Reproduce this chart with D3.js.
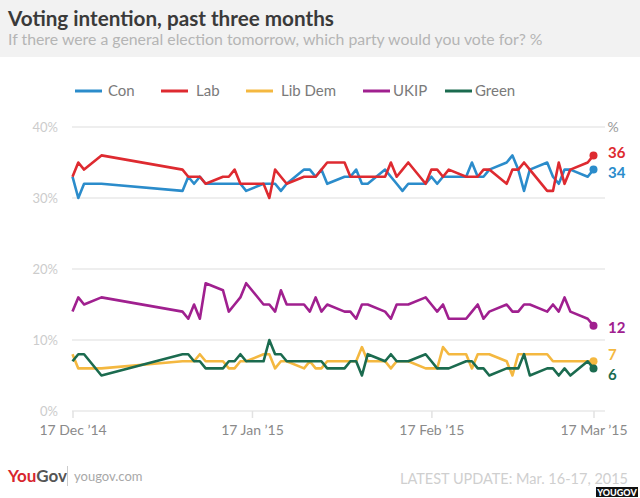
<!DOCTYPE html>
<html><head><meta charset="utf-8">
<script src="https://cdn.jsdelivr.net/npm/d3@7"></script>
<style>
html,body{margin:0;padding:0;background:#fff;}
svg{display:block;font-family:Lato,"Open Sans",sans-serif;}
</style></head>
<body>
<svg id="chart" width="640" height="498"></svg>
<script>
const dates = ["2014-12-17","2014-12-18","2014-12-19","2014-12-22",
"2015-01-05","2015-01-06","2015-01-07","2015-01-08","2015-01-09",
"2015-01-12","2015-01-13","2015-01-14","2015-01-15","2015-01-16",
"2015-01-19","2015-01-20","2015-01-21","2015-01-22","2015-01-23",
"2015-01-26","2015-01-27","2015-01-28","2015-01-29","2015-01-30",
"2015-02-02","2015-02-03","2015-02-04","2015-02-05","2015-02-06",
"2015-02-09","2015-02-10","2015-02-11","2015-02-12","2015-02-13",
"2015-02-16","2015-02-17","2015-02-18","2015-02-19","2015-02-20",
"2015-02-23","2015-02-24","2015-02-25","2015-02-26","2015-02-27",
"2015-03-02","2015-03-03","2015-03-04","2015-03-05","2015-03-06",
"2015-03-09","2015-03-10","2015-03-11","2015-03-12","2015-03-13",
"2015-03-16","2015-03-17"];
const con = [33,30,32,32, 31,33,32,33,32, 32,32,32,32,31, 32,32,32,31,32, 34,34,33,34,32,
  33,33,34,32,32, 34,33,32,31,32, 32,33,32,33,33, 33,35,33,33,34, 35,36,34,31,34, 35,33,32,34,34, 33,34];
const lab = [33,35,34,36, 34,33,33,33,32, 33,33,34,32,32, 32,30,34,33,32, 33,33,33,34,35,
  35,33,33,33,33, 33,35,33,34,35, 32,34,34,33,34, 33,33,33,34,34, 32,34,34,35,34, 31,31,35,32,34, 35,36];
const libDem = [8,6,6,6, 7,7,7,8,7, 7,6,6,7,7, 8,8,6,7,7, 6,7,6,6,7,
  7,7,7,9,7, 7,6,7,7,7, 6,6,6,9,8, 8,6,8,8,8, 7,5,8,8,8, 8,7,7,7,7, 7,7];
const ukip = [14,16,15,16, 14,13,15,13,18, 17,14,15,16,18, 15,15,14,17,15, 15,14,16,14,15,
  14,14,13,15,15, 14,13,15,15,15, 16,15,14,15,13, 13,14,15,13,14, 15,14,14,15,15, 14,15,14,16,14, 13,12];
const green = [7,8,8,5, 8,8,7,7,6, 6,7,7,8,7, 7,10,8,8,7, 7,7,7,7,6,
  6,7,7,5,8, 7,8,7,7,7, 8,7,6,6,6, 7,7,6,6,5, 6,6,6,8,5, 6,6,5,6,5, 7,6];
const seriesNames = ["Con","Lab","Lib Dem","UKIP","Green"];
const seriesColors = ["#2b8ccb","#de2a30","#f4b840","#a0208f","#1b6b4f"];
const yTicks = [0,10,20,30,40];
const xTickDates = ["2014-12-17","2015-01-17","2015-02-17","2015-03-17"];
const xTickLabels = ["17 Dec \u201914","17 Jan \u201915","17 Feb \u201915","17 Mar \u201915"];

const svg = d3.select("#chart");
const parse = d3.utcParse("%Y-%m-%d");
const x = d3.scaleUtc().domain([parse("2014-12-17"), parse("2015-03-17")]).range([72.5, 593.5]);
const y = d3.scaleLinear().domain([0,40]).range([411,127]);

function fitText(sel, target){
  const n = sel.node(); const w = n.getComputedTextLength();
  const fs = parseFloat(sel.attr("font-size"));
  sel.attr("font-size", (fs*target/w).toFixed(2));
}

// header
svg.append("rect").attr("x",0).attr("y",0).attr("width",640).attr("height",57).attr("fill","#f2f2f2");
const t1 = svg.append("text").attr("x",8).attr("y",26).attr("font-size",20).attr("font-weight",700)
  .attr("fill","#3a3a3a").text("Voting intention, past three months");
fitText(t1, 326);
const t2 = svg.append("text").attr("x",8).attr("y",45).attr("font-size",14)
  .attr("fill","#b5b5b5").text("If there were a general election tomorrow, which party would you vote for? %");
fitText(t2, 535);

// legend
const legX = [75,161,246,363,445];
const legTextX = [108,196,281,393,475];
seriesNames.forEach((n,i)=>{
  svg.append("line").attr("x1",legX[i]).attr("x2",legX[i]+27).attr("y1",91).attr("y2",91)
    .attr("stroke",seriesColors[i]).attr("stroke-width",3);
  svg.append("text").attr("x",legTextX[i]).attr("y",96).attr("font-size",15).attr("fill","#7a7a7a").text(n);
});

// grid
const g = svg.append("g");
yTicks.forEach(t=>{
  g.append("line").attr("x1",72).attr("x2",605).attr("y1",y(t)).attr("y2",y(t))
    .attr("stroke","#e9e9e9").attr("stroke-width",1.5);
  g.append("text").attr("x",58).attr("y",y(t)+5).attr("text-anchor","end").attr("font-size",13)
    .attr("fill","#cccccc").text(t+"%");
});
svg.append("text").attr("x",613).attr("y",y(40)+5).attr("text-anchor","middle").attr("font-size",14)
  .attr("fill","#9a9a9a").text("%");

// x axis
const xAxis = d3.axisBottom(x).tickValues(xTickDates.map(parse)).tickSize(7)
  .tickFormat((d,i)=>xTickLabels[i]);
const ax = svg.append("g").attr("transform","translate(0,411)").call(xAxis);
ax.select(".domain").remove();
ax.selectAll(".tick line").attr("stroke","#e2e2e2").attr("stroke-width",1.5);
ax.selectAll(".tick text").attr("y",20).attr("dy","0.32em").attr("font-size",14)
  .attr("fill","#8a8a8a").attr("font-family","Lato, sans-serif");

// lines
const allSeries = [con,lab,libDem,ukip,green];
const order = [2,4,3,0,1];
const line = d3.line().x((d,i)=>x(parse(dates[i]))).y(d=>y(d));
order.forEach(k=>{
  svg.append("path").datum(allSeries[k]).attr("d",line).attr("fill","none")
    .attr("stroke",seriesColors[k]).attr("stroke-width",2.6).attr("stroke-linejoin","round");
  const last = allSeries[k].length-1;
  svg.append("circle").attr("cx",x(parse(dates[last]))).attr("cy",y(allSeries[k][last])).attr("r",4)
    .attr("fill",seriesColors[k]);
});

// end labels
const endLabelY = [173,153,355,328,375];
allSeries.forEach((s,k)=>{
  svg.append("text").attr("x",608).attr("y",endLabelY[k]+5).attr("font-size",15).attr("font-weight",700)
    .attr("fill",seriesColors[k]).text(s[s.length-1]);
});

// footer
const yg = svg.append("text").attr("x",8).attr("y",482).attr("font-size",17).attr("font-weight",700);
yg.append("tspan").attr("fill","#d8262e").text("You");
yg.append("tspan").attr("fill","#555").text("Gov");
svg.append("line").attr("x1",67.5).attr("x2",67.5).attr("y1",466).attr("y2",486).attr("stroke","#ccc");
svg.append("text").attr("x",74).attr("y",481).attr("font-size",13).attr("fill","#a8a8a8").text("yougov.com");
const lu = svg.append("text").attr("x",400).attr("y",484).attr("font-size",15).attr("fill","#cfcfcf")
  .text("LATEST UPDATE: Mar. 16-17, 2015");
fitText(lu, 228);
svg.append("rect").attr("x",596).attr("y",487).attr("width",42).attr("height",10).attr("fill","#111");
svg.append("text").attr("x",617).attr("y",495.5).attr("text-anchor","middle").attr("font-size",9)
  .attr("font-weight",900).attr("fill","#fff").text("YOUGOV");
</script>
</body></html>
